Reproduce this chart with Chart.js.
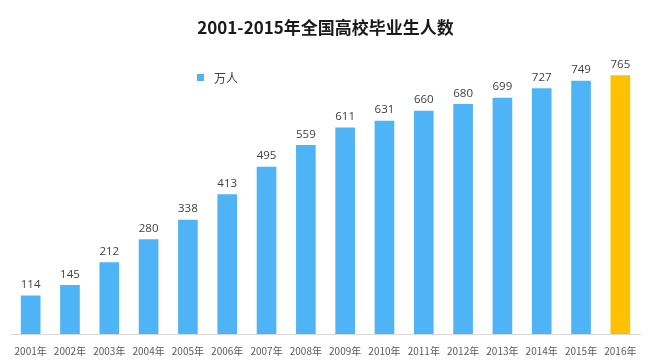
<!DOCTYPE html>
<html><head><meta charset="utf-8">
<script src="https://cdn.jsdelivr.net/npm/chart.js@4/dist/chart.umd.min.js"></script>
<style>html,body{margin:0;padding:0;background:#fff}#wrap{width:650px;height:360px}</style>
</head><body><div id="wrap"><canvas id="c" width="650" height="360"></canvas></div>
<script>
const categories = ['2001年','2002年','2003年','2004年','2005年','2006年','2007年','2008年','2009年','2010年','2011年','2012年','2013年','2014年','2015年','2016年'];
const graduates = [114,145,212,280,338,413,495,559,611,631,660,680,699,727,749,765];
const seriesName = '万人';
const titleText = '2001-2015年全国高校毕业生人数';
const barColors = categories.map((c,i)=> i===categories.length-1 ? '#FFC000' : '#4FB4F6');

const FONT = '"Noto Sans CJK SC", "Open Sans", sans-serif';

const labelPlugin = {
  id:'labels',
  afterDatasetsDraw(chart){
    const ctx = chart.ctx;
    const meta = chart.getDatasetMeta(0);
    ctx.save();
    ctx.font = '11.5px "Open Sans", sans-serif';
    ctx.fillStyle = '#404040';
    ctx.textAlign = 'center';
    ctx.textBaseline = 'bottom';
    meta.data.forEach((bar,i)=>{
      ctx.fillText(String(graduates[i]), bar.x, bar.y - 5);
    });
    // legend
    ctx.fillStyle = '#4FB4F6';
    ctx.fillRect(197, 74, 7, 7);
    ctx.fillStyle = '#404040';
    ctx.font = '12px ' + FONT;
    ctx.textAlign = 'left';
    ctx.textBaseline = 'middle';
    ctx.fillText(chart.data.datasets[0].label, 214, 78);
    ctx.restore();
  }
};

new Chart(document.getElementById('c'), {
  type:'bar',
  data:{labels:categories, datasets:[{label:seriesName, data:graduates, backgroundColor:barColors, barPercentage:0.5, categoryPercentage:1.0}]},
  options:{
    responsive:false, animation:false,
    layout:{padding:{left:11,right:10,top:0,bottom:0}},
    plugins:{
      legend:{display:false},
      tooltip:{enabled:false},
      title:{display:true, text:titleText, color:'#1a1a1a', font:{family:FONT, size:17, weight:'bold'}, padding:{top:17,bottom:17}}
    },
    scales:{
      x:{grid:{display:false}, border:{color:'#d9d9d9'}, ticks:{color:'#595959', font:{family:FONT, size:10}, maxRotation:0, autoSkip:false, padding:3}},
      y:{display:false, min:0, max:827}
    }
  },
  plugins:[labelPlugin]
});
</script></body></html>
